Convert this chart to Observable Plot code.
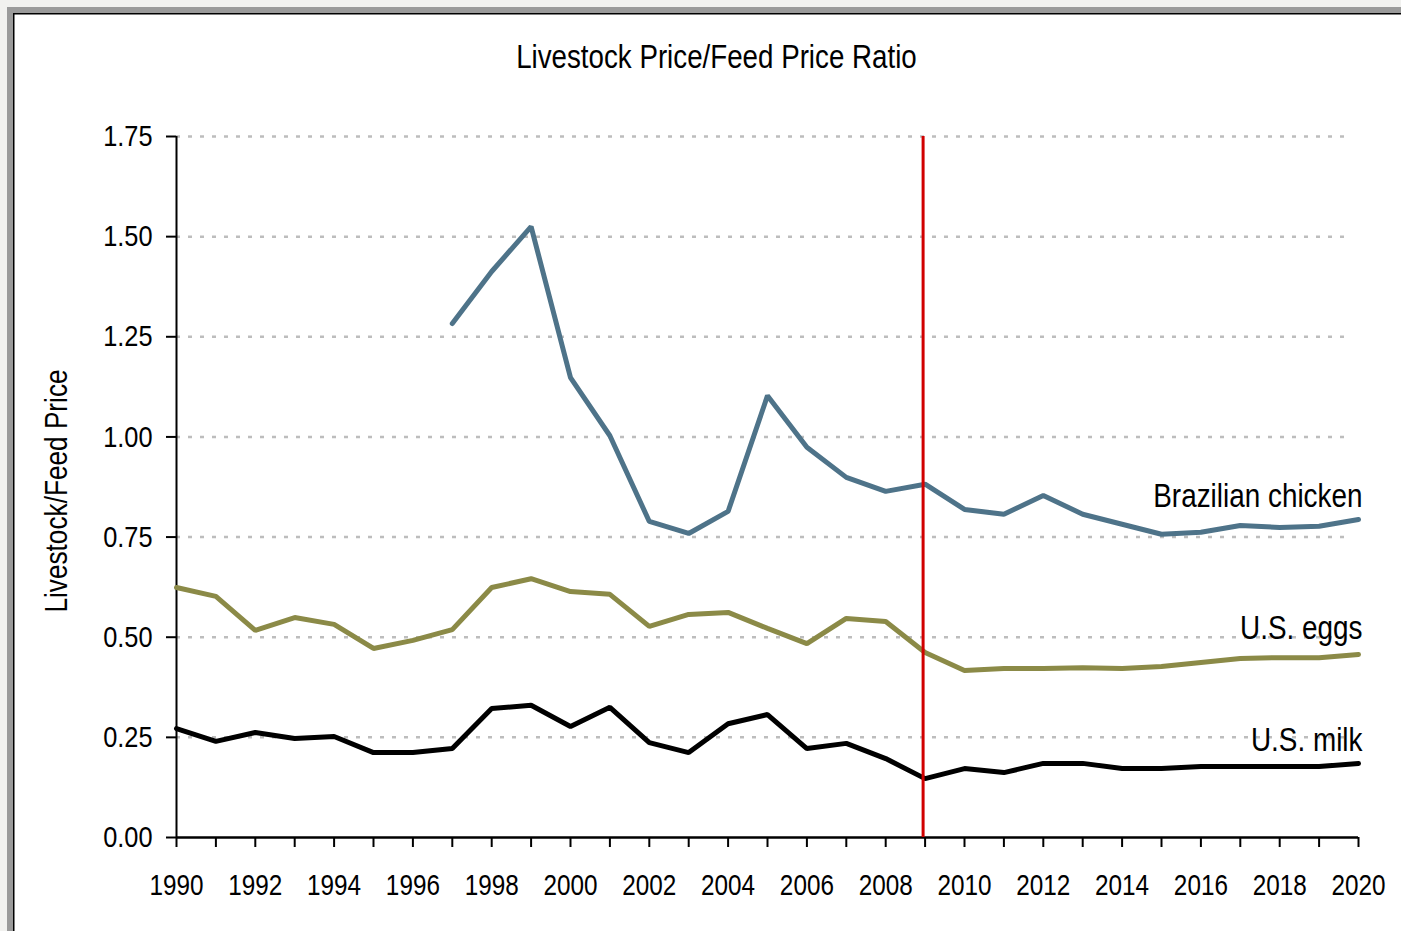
<!DOCTYPE html>
<html><head><meta charset="utf-8">
<script src="https://cdn.jsdelivr.net/npm/d3@7"></script>
<script src="https://cdn.jsdelivr.net/npm/@observablehq/plot@0.6"></script>
<style>
html,body{margin:0;padding:0}
body{background:#f1f1ef;width:1401px;height:931px;overflow:hidden;position:relative;font-family:"Liberation Sans",Arial,sans-serif}
#frame{position:absolute;left:7px;top:7px;width:1500px;height:1100px;border:6px solid #9a9a9a;background:#fff;box-shadow:inset 1.5px 1.5px 0 #000}
#titlebox{position:absolute;left:0;width:1433px;top:37px;line-height:40px;text-align:center}
#title{display:inline-block;font-size:33px;color:#000;transform:scaleX(0.84);transform-origin:center}
#chart{position:absolute;left:0;top:0}
</style></head>
<body>
<div id="frame"></div>
<div id="chart"></div>
<div id="titlebox"><span id="title">Livestock Price/Feed Price Ratio</span></div>
<script>
const years = [1990,1991,1992,1993,1994,1995,1996,1997,1998,1999,2000,2001,2002,2003,2004,2005,2006,2007,2008,2009,2010,2011,2012,2013,2014,2015,2016,2017,2018,2019,2020];
const chicken = [null,null,null,null,null,null,null,1.283,1.413,1.525,1.148,1.003,0.789,0.759,0.814,1.103,0.974,0.899,0.864,0.882,0.819,0.807,0.854,0.807,0.782,0.757,0.762,0.779,0.774,0.777,0.794];
const eggs = [0.624,0.602,0.517,0.549,0.532,0.472,0.492,0.519,0.624,0.646,0.614,0.607,0.527,0.557,0.562,0.522,0.484,0.547,0.539,0.462,0.417,0.422,0.422,0.424,0.422,0.427,0.437,0.447,0.449,0.449,0.457];
const milk = [0.272,0.240,0.262,0.247,0.252,0.212,0.212,0.222,0.322,0.330,0.277,0.325,0.237,0.212,0.284,0.307,0.222,0.235,0.197,0.147,0.172,0.162,0.185,0.185,0.172,0.172,0.177,0.177,0.177,0.177,0.185];
const seriesNames = ["Brazilian chicken","U.S. eggs","U.S. milk"];
const seriesColors = ["#4e7389","#8b8a47","#000000"];
const labelValues = [0.852,0.522,0.242];
const yTicks = [0,0.25,0.5,0.75,1.0,1.25,1.5,1.75];
const gridValues = [0.25,0.5,0.75,1.0,1.25,1.5,1.75];
const markerYear = 2009;

const seriesValues = [chicken, eggs, milk];
const rows = [];
seriesNames.forEach((name, i) => {
  years.forEach((yr, j) => {
    const v = seriesValues[i][j];
    if (v != null) rows.push({series: name, year: yr, value: v});
  });
});
const labels = seriesNames.map((name, i) => ({series: name, year: 2020, value: labelValues[i]}));
const FONT = "'Liberation Sans', Arial, sans-serif";

const chart = Plot.plot({
  width: 1401,
  height: 931,
  marginLeft: 176,
  marginRight: 43,
  marginTop: 136,
  marginBottom: 94,
  style: {background: "transparent", fontFamily: FONT, color: "#000"},
  x: {type: "linear", domain: [1990, 2020]},
  y: {domain: [0, 1.75]},
  color: {domain: seriesNames, range: seriesColors},
  marks: [
    Plot.ruleY(gridValues, {x1: 1990, x2: 2019.8, stroke: "#bdbdbd", strokeWidth: 2.5, strokeDasharray: "4,8"}),
    Plot.axisY({ticks: yTicks, tickSize: 10, tickPadding: 14, tickFormat: d3.format(".2f"), fontSize: 30, stroke: "#000", strokeWidth: 2, strokeOpacity: 1, label: null}),
    Plot.axisX({ticks: years, tickSize: 10, tickPadding: 26, tickFormat: d => d % 2 === 0 ? String(d) : "", fontSize: 30, stroke: "#000", strokeWidth: 2, strokeOpacity: 1, label: null}),
    Plot.ruleX([1990], {y1: 0, y2: 1.75, stroke: "#000", strokeWidth: 2}),
    Plot.ruleY([0], {x1: 1990, x2: 2020, stroke: "#000", strokeWidth: 2.5}),
    Plot.line(rows, {x: "year", y: "value", z: "series", stroke: "series", strokeWidth: 5, strokeLinejoin: "miter", strokeLinecap: "round"}),
    Plot.ruleX([markerYear], {y1: 0, y2: 1.75, stroke: "#d10000", strokeWidth: 3, dx: -2}),
    Plot.text(labels, {x: "year", y: "value", text: "series", textAnchor: "end", dx: 4, fontSize: 33, fill: "#000"})
  ]
});
document.getElementById("chart").appendChild(chart);
d3.select(chart).append("text")
  .attr("transform", "translate(67,491) rotate(-90)")
  .attr("text-anchor", "middle")
  .attr("font-size", 31)
  .attr("font-family", FONT)
  .attr("fill", "#000")
  .text("Livestock/Feed Price");

// condense all chart text horizontally (narrow-typeface look)
d3.select(chart).selectAll("text").each(function() {
  const len = this.getComputedTextLength();
  if (!len) return;
  const f = this.closest('[aria-label="x-axis tick label"]') ? 0.81 : 0.845;
  this.setAttribute("textLength", len * f);
  this.setAttribute("lengthAdjust", "spacingAndGlyphs");
});
</script>
</body></html>
